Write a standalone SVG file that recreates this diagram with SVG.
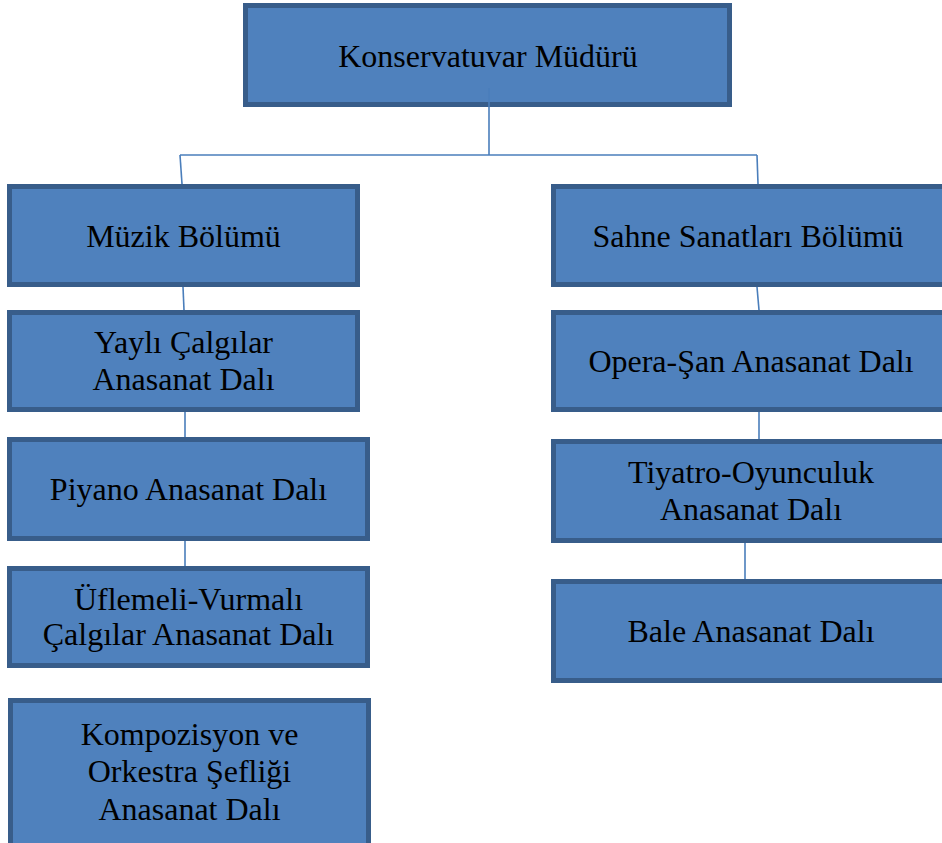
<svg xmlns="http://www.w3.org/2000/svg" width="942" height="843" viewBox="0 0 942 843">
<style>
.box{fill:#4F81BD;stroke:#385D8A;stroke-width:5}
.t{font-family:"Liberation Serif","Times New Roman",serif;font-size:32px;fill:#000;text-anchor:middle}
.c{stroke:#4A7EBB;stroke-width:1.6;fill:none}
</style>
<rect width="942" height="843" fill="#fff"/>
<g id="n0"><rect class="box" x="245.5" y="5.5" width="484" height="99"/><text class="t" x="488" y="67">Konservatuvar Müdürü</text></g>
<g id="n1"><rect class="box" x="9.5" y="186.5" width="348" height="98"/><text class="t" x="183.5" y="247">Müzik Bölümü</text></g>
<g id="n2"><rect class="box" x="553.5" y="186.5" width="392" height="98"/><text class="t" x="748" y="247">Sahne Sanatları Bölümü</text></g>
<g id="n3"><rect class="box" x="9.5" y="312.5" width="348" height="97"/><text class="t" x="183.5" y="353">Yaylı Çalgılar</text><text class="t" x="183.5" y="390">Anasanat Dalı</text></g>
<g id="n4"><rect class="box" x="9.5" y="439.5" width="358" height="99"/><text class="t" x="188.5" y="500">Piyano Anasanat Dalı</text></g>
<g id="n5"><rect class="box" x="9.5" y="568.5" width="358" height="97"/><text class="t" x="188.5" y="610">Üflemeli-Vurmalı</text><text class="t" x="188.5" y="645">Çalgılar Anasanat Dalı</text></g>
<g id="n6"><rect class="box" x="10.5" y="700.5" width="358" height="150"/><text class="t" x="189.5" y="745">Kompozisyon ve</text><text class="t" x="189.5" y="782">Orkestra Şefliği</text><text class="t" x="189.5" y="820">Anasanat Dalı</text></g>
<g id="n7"><rect class="box" x="553.5" y="312.5" width="392" height="97"/><text class="t" x="751" y="372">Opera-Şan Anasanat Dalı</text></g>
<g id="n8"><rect class="box" x="553.5" y="441.5" width="392" height="99"/><text class="t" x="751" y="483">Tiyatro-Oyunculuk</text><text class="t" x="751" y="520">Anasanat Dalı</text></g>
<g id="n9"><rect class="box" x="553.5" y="581.5" width="392" height="99"/><text class="t" x="751" y="642">Bale Anasanat Dalı</text></g>
<g id="connectors">
<line class="c" x1="489" y1="88" x2="489" y2="155"/>
<line class="c" x1="180" y1="155" x2="757" y2="155"/>
<line class="c" x1="180" y1="155" x2="182" y2="184"/>
<line class="c" x1="757" y1="155" x2="758" y2="184"/>
<line class="c" x1="183" y1="287" x2="184" y2="310"/>
<line class="c" x1="757" y1="287" x2="759" y2="310"/>
<line class="c" x1="185" y1="412" x2="185" y2="437"/>
<line class="c" x1="185" y1="541" x2="185" y2="566"/>
<line class="c" x1="759" y1="412" x2="759" y2="439"/>
<line class="c" x1="745" y1="543" x2="745" y2="579"/>
</g>
</svg>
